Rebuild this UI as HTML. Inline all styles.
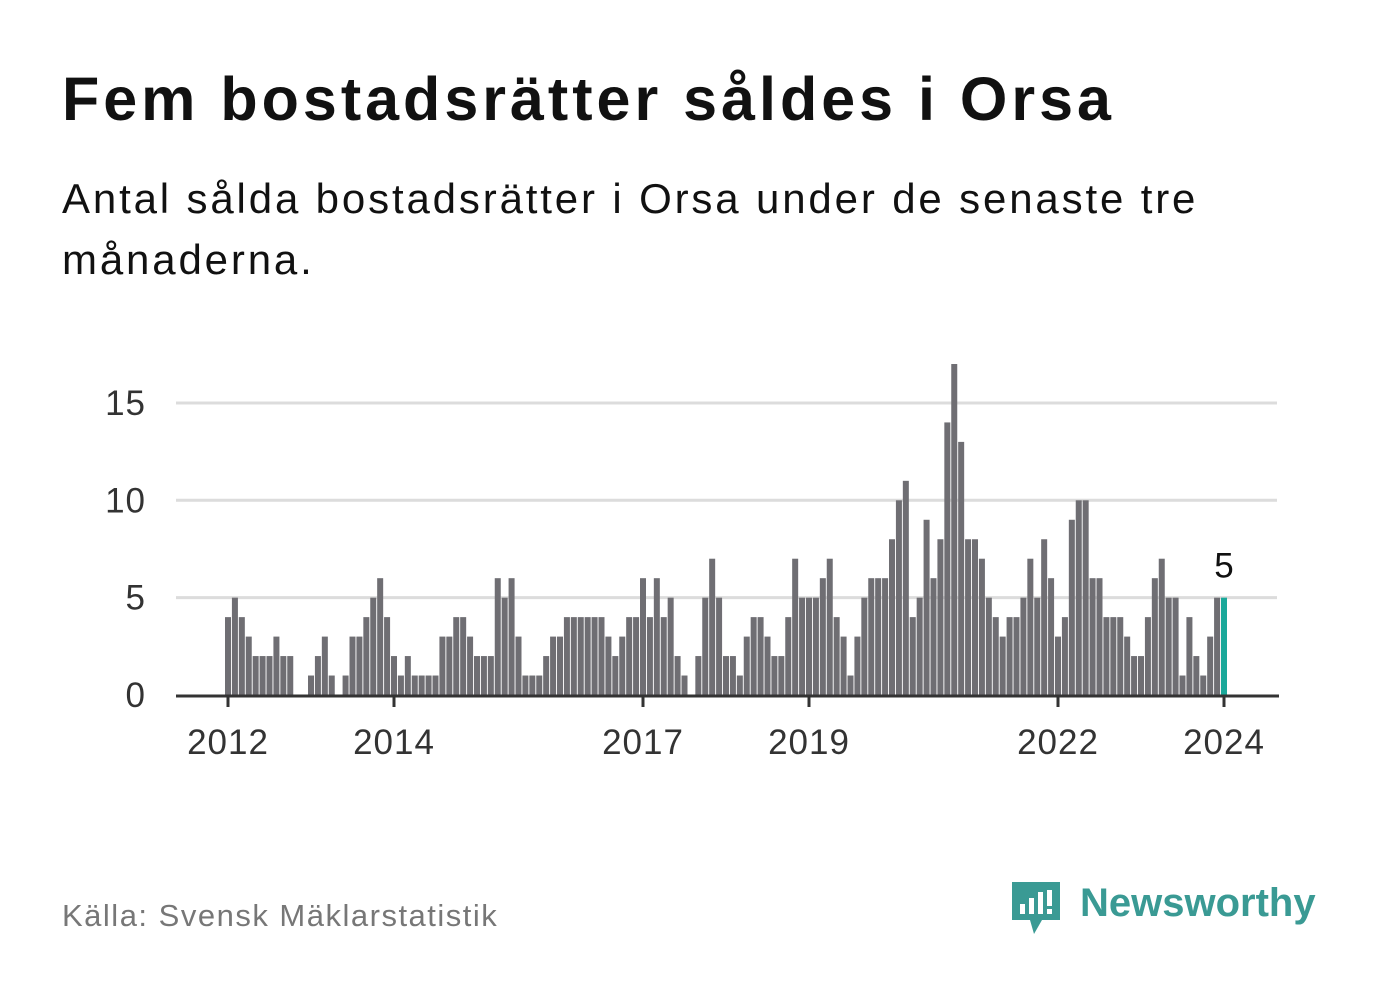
<!DOCTYPE html>
<html><head><meta charset="utf-8">
<style>
body{margin:0;width:1382px;height:999px;background:#fff;font-family:"Liberation Sans",sans-serif;overflow:hidden;position:relative}
.t{position:absolute;left:62px;top:64px;font-size:61px;font-weight:bold;color:#111;letter-spacing:4px;white-space:nowrap}
.s{position:absolute;left:62px;top:168px;font-size:42px;line-height:61px;color:#111;width:1300px;letter-spacing:2.85px}
.src{position:absolute;left:62px;top:898px;font-size:31px;color:#777;letter-spacing:1.5px;white-space:nowrap}
</style></head><body>
<div class="t">Fem bostadsrätter såldes i Orsa</div>
<div class="s">Antal sålda bostadsrätter i Orsa under de senaste tre<br>månaderna.</div>
<svg id="chart" width="1382" height="999" style="position:absolute;left:0;top:0"></svg>
<div class="src">Källa: Svensk Mäklarstatistik</div>
<div style="position:absolute;left:1010px;top:878px;">
<svg width="52" height="62"><path d="M2 4h48v38H32l-8 14-4-14H2z" fill="#3a9a94"/><rect x="10" y="26" width="5" height="10" fill="#fff"/><rect x="19" y="20" width="5" height="16" fill="#fff"/><rect x="28" y="14" width="5" height="22" fill="#fff"/><rect x="37" y="12" width="5" height="16" fill="#fff"/><rect x="37" y="31" width="5" height="5" fill="#fff"/></svg>
<span style="position:absolute;left:70px;top:3px;font-size:40px;font-weight:bold;color:#3a9a94;white-space:nowrap">Newsworthy</span>
</div>
<script>
const values=[4,5,4,3,2,2,2,3,2,2,0,0,
1,2,3,1,0,1,3,3,4,5,6,4,
2,1,2,1,1,1,1,3,3,4,4,3,
2,2,2,6,5,6,3,1,1,1,2,3,
3,4,4,4,4,4,4,3,2,3,4,4,
6,4,6,4,5,2,1,0,2,5,7,5,
2,2,1,3,4,4,3,2,2,4,7,5,
5,5,6,7,4,3,1,3,5,6,6,6,
8,10,11,4,5,9,6,8,14,17,13,8,
8,7,5,4,3,4,4,5,7,5,8,6,
3,4,9,10,10,6,6,4,4,4,3,2,
2,4,6,7,5,5,1,4,2,1,3,5,
5];
const yTicks=[0,5,10,15];
const xTickLabels=["2012","2014","2017","2019","2022","2024"];
const xTickMonths=[0,24,60,84,120,144];
const NS="http://www.w3.org/2000/svg";
const svg=document.getElementById('chart');
const x0=228,step=(1224-228)/144,y0=695,unit=19.47;
const X=i=>x0+i*step, Y=v=>y0-v*unit;
function mk(t,a){const e=document.createElementNS(NS,t);for(const k in a)e.setAttribute(k,a[k]);svg.appendChild(e);return e;}
yTicks.forEach(v=>{
 if(v>0){const g=mk('line',{x1:176,x2:1277,y1:Y(v),y2:Y(v),stroke:'#dcdcdc','stroke-width':3});
 
 }
 const t=mk('text',{x:146,y:Y(v)+12,'text-anchor':'end','font-size':35,fill:'#333','letter-spacing':1,'font-family':'Liberation Sans, sans-serif'});
 t.textContent=v;
 
 
});
values.forEach((v,i)=>{
 if(v<=0)return;
 const last=i===values.length-1;
 const r=mk('rect',{x:X(i)-3,y:Y(v),width:6,height:v*unit,fill:last?'#1aa89a':'#6f6e73'});
 
 
});
const ax=mk('line',{x1:176,x2:1279,y1:y0+1,y2:y0+1,stroke:'#333','stroke-width':3});


xTickMonths.forEach((m,k)=>{
 const tk=mk('line',{x1:X(m),x2:X(m),y1:y0,y2:y0+12,stroke:'#333','stroke-width':3});
 
 
 const t=mk('text',{x:X(m),y:754,'text-anchor':'middle','font-size':35,fill:'#333','letter-spacing':1,'font-family':'Liberation Sans, sans-serif'});
 t.textContent=xTickLabels[k];
 
 
});
const li=values.length-1;
const an=mk('text',{x:X(li),y:Y(values[li])-20,'text-anchor':'middle','font-size':35,fill:'#111','font-family':'Liberation Sans, sans-serif'});
an.textContent=values[li];


</script>
</body></html>
